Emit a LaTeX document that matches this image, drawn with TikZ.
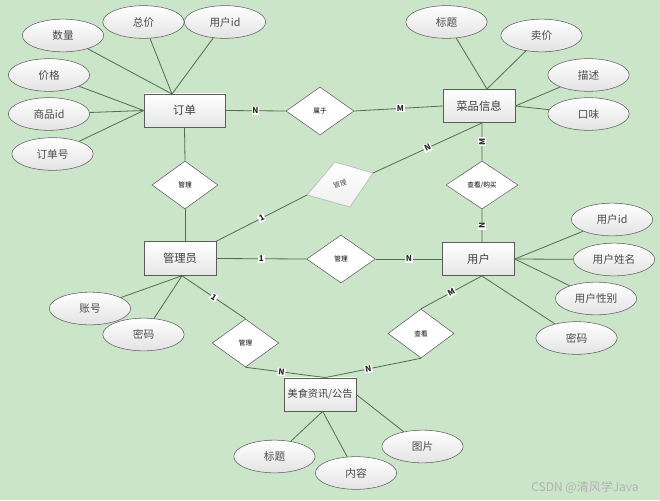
\documentclass[tikz,border=0pt]{standalone}
\usepackage{fontspec}
\setmainfont{Noto Sans CJK SC}
\usetikzlibrary{shapes.geometric}
\definecolor{bg}{HTML}{CAE5C8}
\definecolor{ln}{HTML}{4F6E4F}
\definecolor{bd}{HTML}{5C5C5C}
\begin{document}
\begin{tikzpicture}[x=0.75pt,y=-0.75pt,
  ent/.style={draw=bd, rectangle, top color=white, bottom color=gray!20, minimum width=54pt, minimum height=25pt, inner sep=0pt, font=\fontsize{8.5}{10}\selectfont, text=black!75},
  attr/.style={draw=bd, ellipse, top color=white, bottom color=gray!22, minimum width=61pt, minimum height=24.5pt, inner sep=0pt, font=\fontsize{8}{10}\selectfont, text=black!70},
  rel/.style={draw=bd, diamond, fill=white, minimum width=50pt, minimum height=36pt, inner sep=0pt, font=\fontsize{5}{6}\selectfont},
  conn/.style={draw=ln, line width=0.6pt},
  card/.style={fill=white, inner sep=0.7pt, font=\fontsize{6}{7}\selectfont\bfseries, text=black!85}
]
\fill[bg] (0,0) rectangle (660,500);
\useasboundingbox (0,0) rectangle (660,500);

% entities
\node[ent, minimum width=60.75pt] (order) at (184.5,110.5) {订单};
\node[ent] (dish) at (479,106) {菜品信息};
\node[ent, minimum height=25.5pt] (admin) at (180,258.5) {管理员};
\node[ent] (user) at (478.5,259) {用户};
\node[ent, font=\fontsize{7.6}{9}\selectfont] (news) at (320,394.5) {美食资讯/公告};

% relationships
\node[rel, minimum width=51pt] (belong) at (320,111) {属于};
\node[rel, minimum width=49.5pt] (mg1) at (185,185) {管理};
\node[rel, minimum width=54pt] (view) at (482,185) {查看/购买};
\node[rel, minimum width=51.5pt] (mg2) at (341,259) {管理};
\node[rel] (mg3) at (245.5,343) {管理};
\node[rel, minimum width=49.5pt, minimum height=36.75pt] (see) at (421,333.5) {查看};

% tilted relationship
\coordinate (tT) at (335,162);
\coordinate (tR) at (373,173);
\coordinate (tB) at (350,207);
\coordinate (tL) at (307,195);
\shade[top color=white, bottom color=gray!12, draw=gray!55, line width=0.5pt] (tT) -- (tR) -- (tB) -- (tL) -- cycle;
\node[font=\fontsize{5}{6}\selectfont, text=black!70, rotate=18] (mgt) at (340,184.5) {管理};

% attributes of order
\node[attr] (aqty) at (63,35.5) {数量};
\node[attr] (atotal) at (143.5,22) {总价};
\node[attr] (auid) at (225,22) {用户id};
\node[attr] (aprice) at (49,75) {价格};
\node[attr] (apid) at (49,114) {商品id};
\node[attr] (aoid) at (52.5,154) {订单号};
% attributes of dish
\node[attr] (dtitle) at (446.5,22) {标题};
\node[attr] (dprice) at (541.5,35.5) {卖价};
\node[attr] (ddesc) at (588.5,75) {描述};
\node[attr] (dtaste) at (588.5,114) {口味};
% attributes of user
\node[attr] (uid) at (612,219.5) {用户id};
\node[attr] (uname) at (614,259.5) {用户姓名};
\node[attr] (usex) at (596,298.5) {用户性别};
\node[attr] (upwd) at (576.5,338) {密码};
% attributes of admin
\node[attr] (adacc) at (90,308.5) {账号};
\node[attr] (adpwd) at (143.5,334.5) {密码};
% attributes of news
\node[attr] (ntitle) at (274.5,456.5) {标题};
\node[attr] (ncont) at (356,473) {内容};
\node[attr] (npic) at (422.5,446.5) {图片};

% attachment points
\coordinate (oTop) at (172,94);
\coordinate (dTop) at (487,89);

% attribute lines
\draw[conn] (aqty) -- (oTop);
\draw[conn] (atotal) -- (oTop);
\draw[conn] (auid) -- (oTop);
\draw[conn] (aprice) -- (order.west);
\draw[conn] (apid) -- (order.west);
\draw[conn] (aoid) -- (order.west);
\draw[conn] (dtitle) -- (dTop);
\draw[conn] (dprice) -- (dTop);
\draw[conn] (ddesc) -- (dish.east);
\draw[conn] (dtaste) -- (dish.east);
\draw[conn] (uid) -- (user.east);
\draw[conn] (uname) -- (user.east);
\draw[conn] (usex) -- (user.east);
\draw[conn] (upwd) -- ([xshift=2.5pt]user.south);
\draw[conn] (adacc) -- ([xshift=1.5pt]admin.south);
\draw[conn] (adpwd) -- ([xshift=1.5pt]admin.south);
\draw[conn] (ntitle) -- ([xshift=2pt]news.south);
\draw[conn] (ncont) -- ([xshift=2pt]news.south);
\draw[conn] (npic) -- (news.east);

% relationship lines
\draw[conn] (order.east) -- node[card, pos=0.5] {N} (belong.west);
\draw[conn] (belong.east) -- node[card, pos=0.52] {M} (dish.west);
\draw[conn] ([xshift=2.3pt]dish.south) -- node[card, rotate=90] {M} (view.north);
\draw[conn] (view.south) -- node[card, rotate=90] {N} ([xshift=2.6pt]user.north);
\draw[conn] (order.south) -- (mg1.north);
\draw[conn] (mg1.south) -- ([xshift=3.75pt]admin.north);
\draw[conn] (admin.north east) -- node[card, sloped, pos=0.5] {1} (tL);
\draw[conn] (tR) -- node[card, sloped, pos=0.5] {N} ([xshift=2.3pt]dish.south);
\draw[conn] (admin.east) -- node[card, pos=0.5] {1} (mg2.west);
\draw[conn] (mg2.east) -- node[card, pos=0.5] {N} (user.west);
\draw[conn] ([xshift=1.5pt]admin.south) -- node[card, sloped, pos=0.5] {1} (mg3.north);
\draw[conn] (mg3.south) -- node[card, sloped, pos=0.45] {N} ([xshift=4pt]news.north);
\draw[conn] ([xshift=2.5pt]user.south) -- node[card, sloped, pos=0.5] {M} (see.north);
\draw[conn] (see.south) -- node[card, sloped, pos=0.55] {N} ([xshift=4pt]news.north);

% watermark
\node[font=\fontsize{9}{11}\selectfont, text=gray!60] (wm) at (585,487) {CSDN @清风学Java};
\end{tikzpicture}
\end{document}
